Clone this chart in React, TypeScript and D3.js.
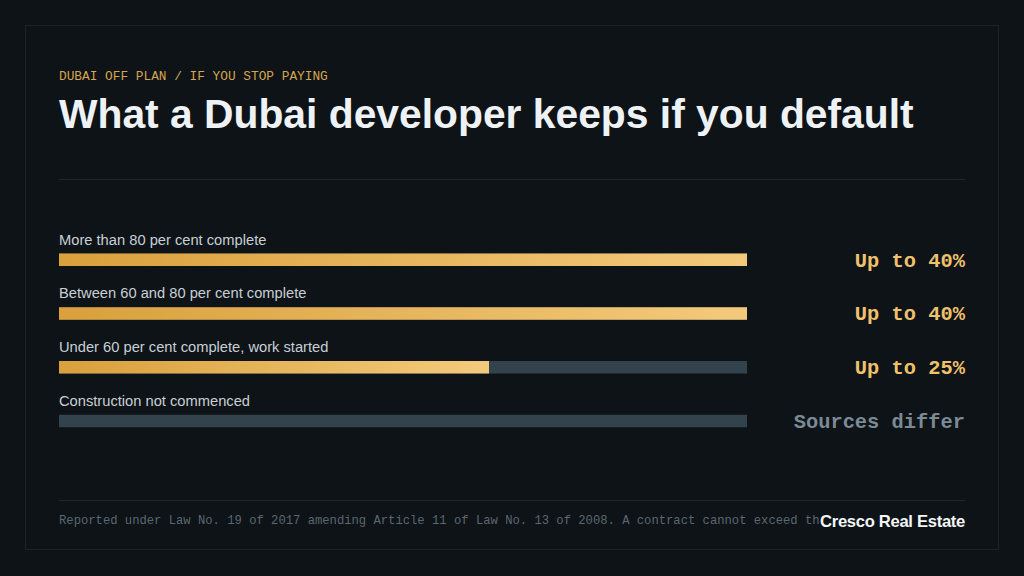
import * as d3 from "d3";

const categories = [
  "More than 80 per cent complete",
  "Between 60 and 80 per cent complete",
  "Under 60 per cent complete, work started",
  "Construction not commenced",
];
const retainedPct: (number | null)[] = [40, 40, 25, null];
const valueLabels = ["Up to 40%", "Up to 40%", "Up to 25%", "Sources differ"];
const maxPct = 40;

const eyebrow = "DUBAI OFF PLAN / IF YOU STOP PAYING";
const title = "What a Dubai developer keeps if you default";
// the footnote is cut off under the brand mark in the source
const footnote =
  "Reported under Law No. 19 of 2017 amending Article 11 of Law No. 13 of 2008. A contract cannot exceed th";
const brand = "Cresco Real Estate";

const W = 1024;
const H = 576;
const left = 59;
const right = 965;
const barEnd = 747;
const barH = 12.5;

const sans = "'Liberation Sans', Arial, sans-serif";
const mono = "'Liberation Mono', 'DejaVu Sans Mono', monospace";

export default function App() {
  const x = d3.scaleLinear().domain([0, maxPct]).range([left, barEnd]);
  const row = d3.scaleBand<string>().domain(categories).range([226, 441]);

  return (
    <svg
      width={W}
      height={H}
      viewBox={`0 0 ${W} ${H}`}
      style={{ position: "absolute", left: 0, top: 0, display: "block" }}
    >
      <defs>
        <linearGradient id="gold" x1="0" x2="1" y1="0" y2="0">
          <stop offset="0%" stopColor="#d9a03c" />
          <stop offset="100%" stopColor="#f3ca7c" />
        </linearGradient>
      </defs>

      <rect width={W} height={H} fill="#0d1317" />
      <rect
        x={25.5}
        y={25.5}
        width={973}
        height={524}
        fill="#0d1317"
        stroke="#1b2328"
        strokeWidth={1}
      />

      <text x={left} y={80} fill="#d6a54f" fontFamily={mono} fontSize={12.8}>
        {eyebrow}
      </text>
      <text
        x={left}
        y={128}
        fill="#eef2f5"
        fontFamily={sans}
        fontWeight={700}
        fontSize={40.8}
        letterSpacing={0}
      >
        {title}
      </text>

      <line x1={left} x2={right} y1={179.5} y2={179.5} stroke="#1e272d" />

      {categories.map((c, i) => {
        const y0 = row(c)!;
        const v = retainedPct[i];
        const barTop = y0 + 27.5;
        return (
          <g key={c}>
            <text x={left} y={y0 + 18.5} fill="#c8cfd5" fontFamily={sans} fontSize={14.7}>
              {c}
            </text>
            <rect x={x(0)} y={barTop} width={x(maxPct) - x(0)} height={barH} fill="#33434d" />
            {v != null && (
              <rect
                x={x(0)}
                y={barTop}
                width={x(v) - x(0)}
                height={barH}
                fill="url(#gold)"
              />
            )}
            <text
              x={right}
              y={barTop + barH + 0.5}
              textAnchor="end"
              fill={v != null ? "#f0c16c" : "#7b8a95"}
              fontFamily={mono}
              fontWeight={700}
              fontSize={20.4}
            >
              {valueLabels[i]}
            </text>
          </g>
        );
      })}

      <line x1={left} x2={right} y1={500.5} y2={500.5} stroke="#1e272d" />
      <text x={left} y={524} fill="#5b6771" fontFamily={mono} fontSize={12.2}>
        {footnote}
      </text>
      <text
        x={right}
        y={527}
        textAnchor="end"
        fill="#f4f6f8"
        fontFamily={sans}
        fontWeight={700}
        fontSize={16.6}
        letterSpacing={-0.3}
      >
        {brand}
      </text>
    </svg>
  );
}
